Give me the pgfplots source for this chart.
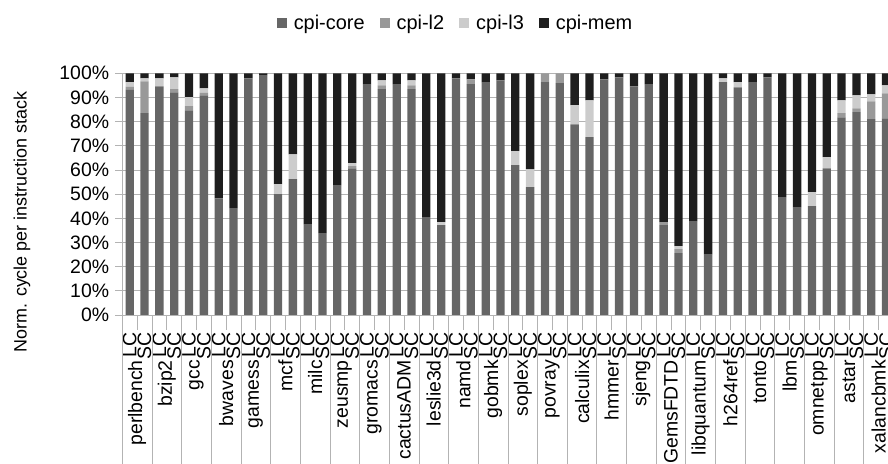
\documentclass[border=0pt]{standalone}
\usepackage{pgfplots}
\pgfplotsset{compat=1.18}
\usepackage{pgfplotstable}
\usepackage{fontspec}
\setmainfont{Liberation Sans}

\definecolor{core}{HTML}{666666}
\definecolor{ltwo}{HTML}{999999}
\definecolor{lthree}{HTML}{CCCCCC}
\definecolor{mem}{HTML}{1E1E1E}
\definecolor{gridgray}{HTML}{B3B3B3}

\newcommand\lblfont{\fontsize{19.5}{22}\selectfont}
\newcommand\legfont{\fontsize{20}{23}\selectfont}
\newcommand\ylabfont{\fontsize{18}{21}\selectfont}

% normalized CPI stack per benchmark, LC and SC configurations (percent)
\pgfplotstableread{
idx core l2 l3 mem
0  93.1  1.4  1.8  3.7
1  83.5 13.2  1.2  2.1
2  94.6  0.0  3.3  2.1
3  92.1  1.3  4.9  1.7
4  84.7  1.7  3.7  9.9
5  90.9  1.0  1.9  6.2
6  48.3  0.0  0.0 51.7
7  44.2  0.0  0.0 55.8
8  97.9  0.0  0.0  2.1
9  99.2  0.0  0.0  0.8
10 50.0  0.0  4.1 45.9
11 56.2  0.0 10.3 33.5
12 37.6  0.0  0.0 62.4
13 33.9  0.0  0.0 66.1
14 53.7  0.0  0.0 46.3
15 60.7  0.9  1.2 37.2
16 95.5  0.0  0.0  4.5
17 93.4  1.6  2.1  2.9
18 95.5  0.0  0.0  4.5
19 93.4  1.6  2.1  2.9
20 40.5  0.0  0.0 59.5
21 37.2  0.0  1.2 61.6
22 97.9  0.0  0.0  2.1
23 95.5  2.0  0.0  2.5
24 96.3  0.0  0.0  3.7
25 97.1  0.0  0.0  2.9
26 62.0  0.0  5.8 32.2
27 52.9  0.0  7.4 39.7
28 96.3  3.7  0.0  0.0
29 95.9  4.1  0.0  0.0
30 78.9  0.0  7.9 13.2
31 73.6  0.0 15.2 11.2
32 97.5  0.0  0.0  2.5
33 98.3  0.0  0.0  1.7
34 94.6  0.0  0.0  5.4
35 95.5  0.0  0.0  4.5
36 37.2  1.2  0.0 61.6
37 25.6  1.7  1.2 71.5
38 38.8  0.0  0.0 61.2
39 25.2  0.0  0.0 74.8
40 96.3  0.0  1.6  2.1
41 94.2  0.0  2.1  3.7
42 96.3  0.0  0.0  3.7
43 98.3  0.0  0.0  1.7
44 48.8  0.0  0.0 51.2
45 44.6  0.0  0.0 55.4
46 45.0  0.0  5.8 49.2
47 60.7  0.0  4.6 34.7
48 81.8  1.7  5.3 11.2
49 83.9  1.6  5.4  9.1
50 81.0  7.4  2.9  8.7
51 81.4 10.3  3.3  5.0
}\cpidata

\begin{document}
\begin{tikzpicture}
\begin{axis}[
  at={(122.3bp,149bp)}, anchor=south west,
  scale only axis, width=771.2bp, height=241.7bp,
  ybar stacked, bar width=8.3bp,
  every axis plot post/.append style={
    legend image code/.code={\fill[##1,/tikz/.cd] (0bp,-5bp) rectangle (10bp,5bp);}},
  xmin=-0.5, xmax=51.5, ymin=0, ymax=100,
  enlargelimits=false, clip=false,
  axis lines*=left,
  axis line style={-, draw=gridgray, line width=0.8bp},
  ymajorgrids, grid style={draw=gridgray, line width=0.8bp},
  ytick={0,10,...,100},
  yticklabels={0\%,10\%,20\%,30\%,40\%,50\%,60\%,70\%,80\%,90\%,100\%},
  ytick style={draw=gridgray, line width=0.8bp},
  tick align=outside, major tick length=7bp,
  xtick={0,...,51}, xtick style={draw=none},
  xticklabels={LC,SC,LC,SC,LC,SC,LC,SC,LC,SC,LC,SC,LC,SC,LC,SC,LC,SC,LC,SC,LC,SC,LC,SC,LC,SC,
               LC,SC,LC,SC,LC,SC,LC,SC,LC,SC,LC,SC,LC,SC,LC,SC,LC,SC,LC,SC,LC,SC,LC,SC,LC,SC},
  xticklabel style={rotate=90, anchor=east, inner sep=0pt, font=\lblfont},
  xticklabel shift=10bp,
  yticklabel style={font=\lblfont, inner sep=0pt, xshift=-6bp},
  legend columns=4,
  legend style={at={(0.4314,1.2094)}, anchor=center, draw=none, font=\legfont,
    /tikz/every odd column/.append style={column sep=6bp},
    /tikz/every even column/.append style={column sep=14bp},
    nodes={inner sep=1bp}},
]
\addplot[fill=core, draw=none] table[x=idx, y=core] {\cpidata};
\addplot[fill=ltwo, draw=none] table[x=idx, y=l2] {\cpidata};
\addplot[fill=lthree, draw=none] table[x=idx, y=l3] {\cpidata};
\addplot[fill=mem, draw=none] table[x=idx, y=mem] {\cpidata};
\legend{cpi-core,cpi-l2,cpi-l3,cpi-mem}
\end{axis}

% category separators below the axis
\foreach \k in {0,...,52}
  \draw[gridgray, line width=0.8bp] ({122.3bp+\k*14.8308bp},149bp) -- ++(0,-15bp);
\foreach \k in {0,...,26}
  \draw[gridgray, line width=0.8bp] ({122.3bp+2*\k*14.8308bp},149bp) -- ++(0,-160bp);

% benchmark names (outer category level)
\foreach \nm [count=\k from 0] in {perlbench,bzip2,gcc,bwaves,gamess,mcf,milc,zeusmp,gromacs,
    cactusADM,leslie3d,namd,gobmk,soplex,povray,calculix,hmmer,sjeng,GemsFDTD,libquantum,
    h264ref,tonto,lbm,omnetpp,astar,xalancbmk}
  \node[rotate=90, anchor=east, inner sep=0pt, font=\lblfont]
    at ({122.3bp+(2*\k+1)*14.8308bp},104bp) {\nm};

\node[rotate=90, font=\ylabfont] at (22bp,242bp) {Norm. cycle per instruction stack};

\pgfresetboundingbox
\useasboundingbox (0,0) rectangle (888bp,464bp);
\end{tikzpicture}
\end{document}
